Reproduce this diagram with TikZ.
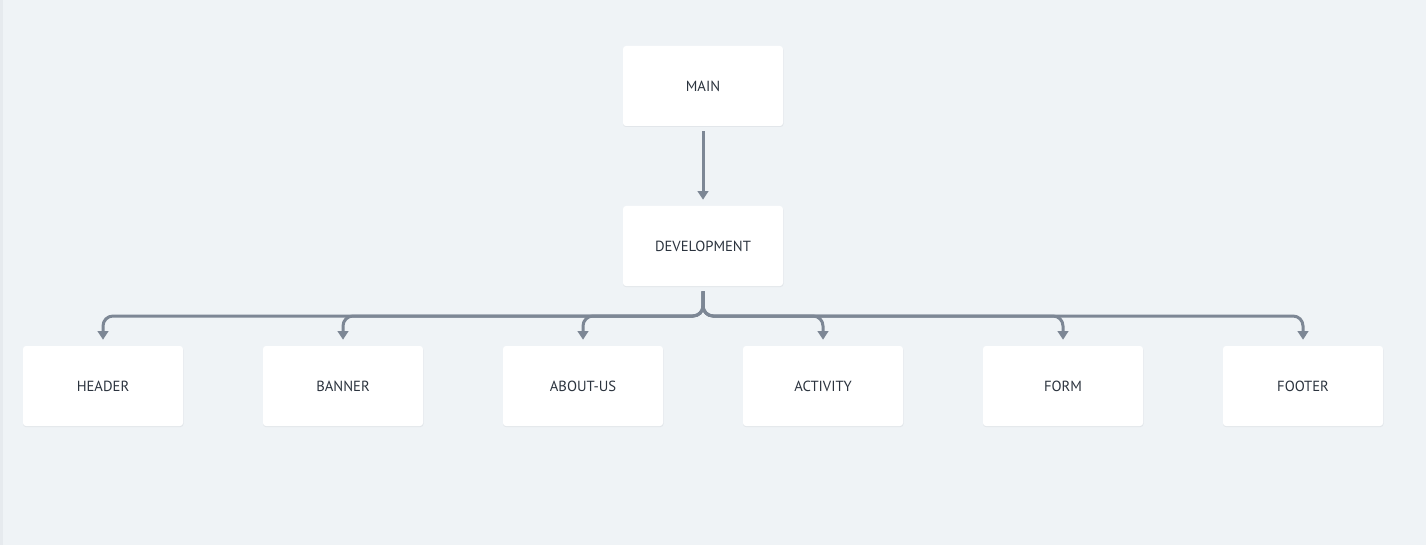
\documentclass[tikz,border=0pt]{standalone}
\usepackage{fontspec}
\setmainfont{PT Sans}
\usetikzlibrary{arrows.meta}
\definecolor{bgc}{HTML}{EFF3F6}
\definecolor{edgec}{HTML}{E6EAEE}
\definecolor{linec}{HTML}{7D8795}
\definecolor{txtc}{HTML}{2B333E}
\definecolor{shadc}{HTML}{E2E6EA}
\tikzset{
  box/.style={fill=white, rounded corners=2.25pt, minimum width=120pt, minimum height=60pt,
    inner sep=0pt, text=txtc, font=\fontsize{11}{12}\selectfont},
  conn/.style={draw=linec, line width=2.25pt, rounded corners=7.5pt,
    -{Triangle[width=8pt,length=6.5pt]}},
}
\begin{document}
\begin{tikzpicture}[x=0.75pt,y=-0.75pt]
\fill[bgc] (0,0) rectangle (1426,545);
\fill[edgec] (0,0) rectangle (3,545);
\useasboundingbox (0,0) rectangle (1426,545);
% shadows
\foreach \cx/\cy in {703/86,703/246,103/386,343/386,583/386,823/386,1063/386,1303/386}{
  \fill[shadc, rounded corners=2.25pt] (\cx-80,\cy-39) rectangle (\cx+80.5,\cy+41);
}
\node[box] (main) at (703,86) {\raisebox{-0.75pt}{MAIN}};
\node[box] (dev) at (703,246) {\raisebox{-0.75pt}{DEVELOPMENT}};
\node[box] (header) at (103,386) {\raisebox{-0.75pt}{HEADER}};
\node[box] (banner) at (343,386) {\raisebox{-0.75pt}{BANNER}};
\node[box] (about) at (583,386) {\raisebox{-0.75pt}{ABOUT-US}};
\node[box] (activity) at (823,386) {\raisebox{-0.75pt}{ACTIVITY}};
\node[box] (form) at (1063,386) {\raisebox{-0.75pt}{FORM}};
\node[box] (footer) at (1303,386) {\raisebox{-0.75pt}{FOOTER}};
\coordinate (bus) at (703,316);
\draw[conn, shorten <=3.75pt, shorten >=4.5pt] (main.south) -- (dev.north);
\foreach \n in {header,banner,about,activity,form,footer}{
  \draw[conn, shorten <=3.75pt, shorten >=4.5pt] (dev.south) |- (\n.north |- bus) -- (\n.north);
}
\end{tikzpicture}
\end{document}
